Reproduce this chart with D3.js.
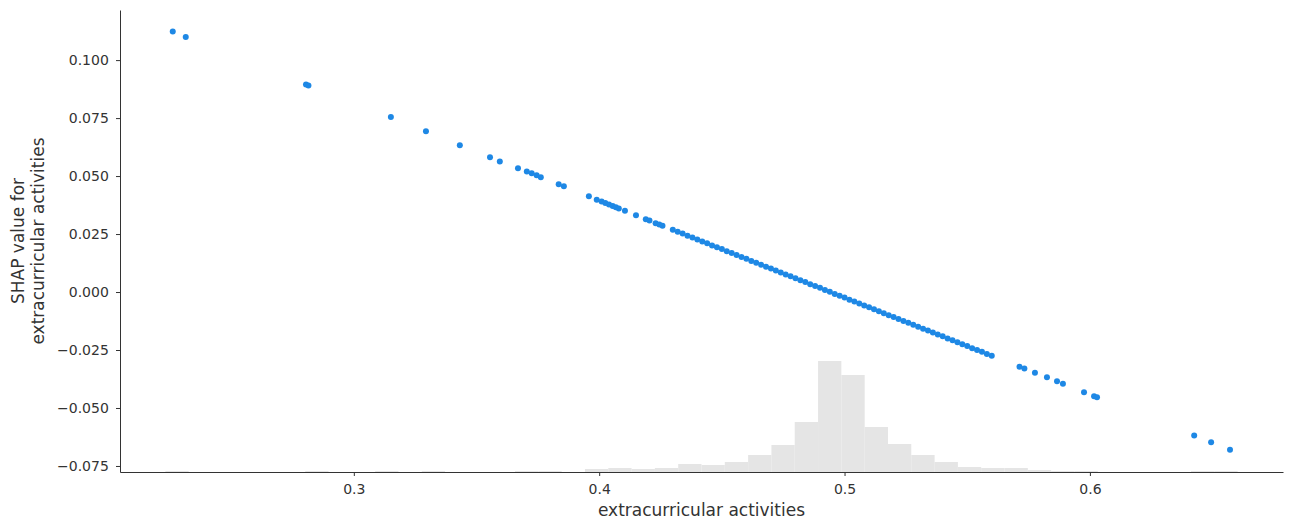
<!DOCTYPE html>
<html>
<head>
<meta charset="utf-8">
<script src="https://cdn.jsdelivr.net/npm/d3@7"></script>
<style>
  body { margin: 0; background: #fff; }
  text { font-family: "DejaVu Sans", sans-serif; }
</style>
</head>
<body>
<svg id="chart" width="1292" height="530"></svg>
<script>
// feature values and shap values
const featureVals = [0.2262,0.2315,0.2805,0.2815,0.3151,0.3294,0.3432,0.3555,0.3595,0.3669,0.3705,0.3725,0.3745,0.3762,0.3835,0.3856,0.3958,0.3990,0.4010,0.4025,0.4040,0.4055,0.4068,0.4080,0.4105,0.4150,0.4190,0.4205,0.4230,0.4245,0.4258,
  0.430,0.432,0.434,0.436,0.438,0.440,0.442,0.444,0.446,0.448,0.450,0.452,0.454,0.456,0.458,0.460,0.462,0.464,0.466,0.468,0.470,0.472,0.474,0.476,0.478,0.480,0.482,0.484,0.486,0.488,0.490,0.492,0.494,0.496,0.498,0.500,0.502,0.504,0.506,0.508,0.510,0.512,0.514,0.516,0.518,0.520,0.522,0.524,0.526,0.528,0.530,0.532,0.534,0.536,0.538,0.540,0.542,0.544,0.546,0.548,0.550,0.552,0.554,0.556,0.558,0.560,
  0.5713,0.5733,0.5776,0.5825,0.5866,0.5890,0.5976,0.6017,0.6029,0.6425,0.6494,0.6571];
const shapVals = [0.1123,0.1100,0.0895,0.0891,0.0755,0.0693,0.0633,0.0581,0.0563,0.0534,0.0520,0.0512,0.0504,0.0495,0.0465,0.0456,0.0413,0.0398,0.0390,0.0384,0.0377,0.0371,0.0365,0.0360,0.0350,0.0331,0.0314,0.0308,0.0297,0.0291,0.0286,
  0.0268,0.0260,0.0252,0.0243,0.0235,0.0226,0.0218,0.0210,0.0201,0.0193,0.0185,0.0176,0.0168,0.0160,0.0151,0.0143,0.0134,0.0126,0.0118,0.0109,0.0101,0.0093,0.0084,0.0076,0.0068,0.0059,0.0051,0.0043,0.0034,0.0026,0.0018,0.0009,0.0001,-0.0008,-0.0016,-0.0024,-0.0033,-0.0041,-0.0049,-0.0058,-0.0066,-0.0074,-0.0083,-0.0091,-0.0100,-0.0108,-0.0116,-0.0125,-0.0133,-0.0141,-0.0150,-0.0158,-0.0166,-0.0175,-0.0183,-0.0191,-0.0200,-0.0208,-0.0217,-0.0225,-0.0233,-0.0242,-0.0250,-0.0258,-0.0267,-0.0275,
  -0.0322,-0.0330,-0.0348,-0.0368,-0.0385,-0.0395,-0.0432,-0.0449,-0.0454,-0.0619,-0.0648,-0.0680];

// histogram of the feature (bin start, width, counts)
const binStart = 0.2232;
const binWidth = 0.0095;
const binCounts = [1,0,0,0,0,0,1,0,0,1,0,1,0,0,0,1,1,0,3,4,3,4,8,7,10,17,27,50,111,97,45,28,17,10,5,4,4,2,1,1,0,0,0,0,1,1];

const xTicks = [0.3, 0.4, 0.5, 0.6];
const yTicks = [-0.075, -0.050, -0.025, 0.000, 0.025, 0.050, 0.075, 0.100];

const svg = d3.select("#chart");
const mLeft = 120, mRight = 1283, mTop = 10, mBottom = 472;

const x = d3.scaleLinear().domain([0.2047, 0.6787]).range([mLeft, mRight]);
const y = d3.scaleLinear().domain([-0.0776, 0.1216]).range([mBottom, mTop]);
const yHist = d3.scaleLinear().domain([0, d3.max(binCounts)]).range([mBottom, mBottom - 111]);

// histogram
svg.append("g").selectAll("rect")
  .data(binCounts)
  .join("rect")
  .attr("x", (d, i) => x(binStart + i * binWidth))
  .attr("width", x(binStart + binWidth) - x(binStart))
  .attr("y", d => yHist(d))
  .attr("height", d => mBottom - yHist(d))
  .attr("fill", "#e5e5e5");

// points
svg.append("g").selectAll("circle")
  .data(featureVals.map((v, i) => [v, shapVals[i]]))
  .join("circle")
  .attr("cx", d => x(d[0]))
  .attr("cy", d => y(d[1]))
  .attr("r", 3)
  .attr("fill", "#1E88E5");

// axes
const xAxis = svg.append("g")
  .attr("transform", `translate(0,${mBottom})`)
  .call(d3.axisBottom(x).tickValues(xTicks).tickFormat(d3.format(".1f")).tickSize(4).tickSizeOuter(0));
const yAxis = svg.append("g")
  .attr("transform", `translate(${mLeft},0)`)
  .call(d3.axisLeft(y).tickValues(yTicks).tickFormat(d3.format(".3f")).tickSize(4).tickSizeOuter(0));

[xAxis, yAxis].forEach(a => {
  a.select(".domain").attr("stroke", "#333");
  a.selectAll(".tick line").attr("stroke", "#333");
  a.selectAll(".tick text").attr("fill", "#333").style("font-size", "14px")
    .style("font-family", "DejaVu Sans, sans-serif");
});
xAxis.selectAll(".tick text").attr("dy", "1.05em");
yAxis.selectAll(".tick text").attr("dx", "-0.3em");

svg.append("text")
  .attr("x", (mLeft + mRight) / 2).attr("y", 516)
  .attr("text-anchor", "middle")
  .attr("fill", "#333").style("font-size", "17px")
  .text("extracurricular activities");

const yl = svg.append("text")
  .attr("transform", `translate(24,${(mTop + mBottom) / 2}) rotate(-90)`)
  .attr("text-anchor", "middle")
  .attr("fill", "#333").style("font-size", "17px");
yl.append("tspan").attr("x", 0).attr("dy", 0).text("SHAP value for");
yl.append("tspan").attr("x", 0).attr("dy", "1.2em").text("extracurricular activities");
</script>
</body>
</html>
